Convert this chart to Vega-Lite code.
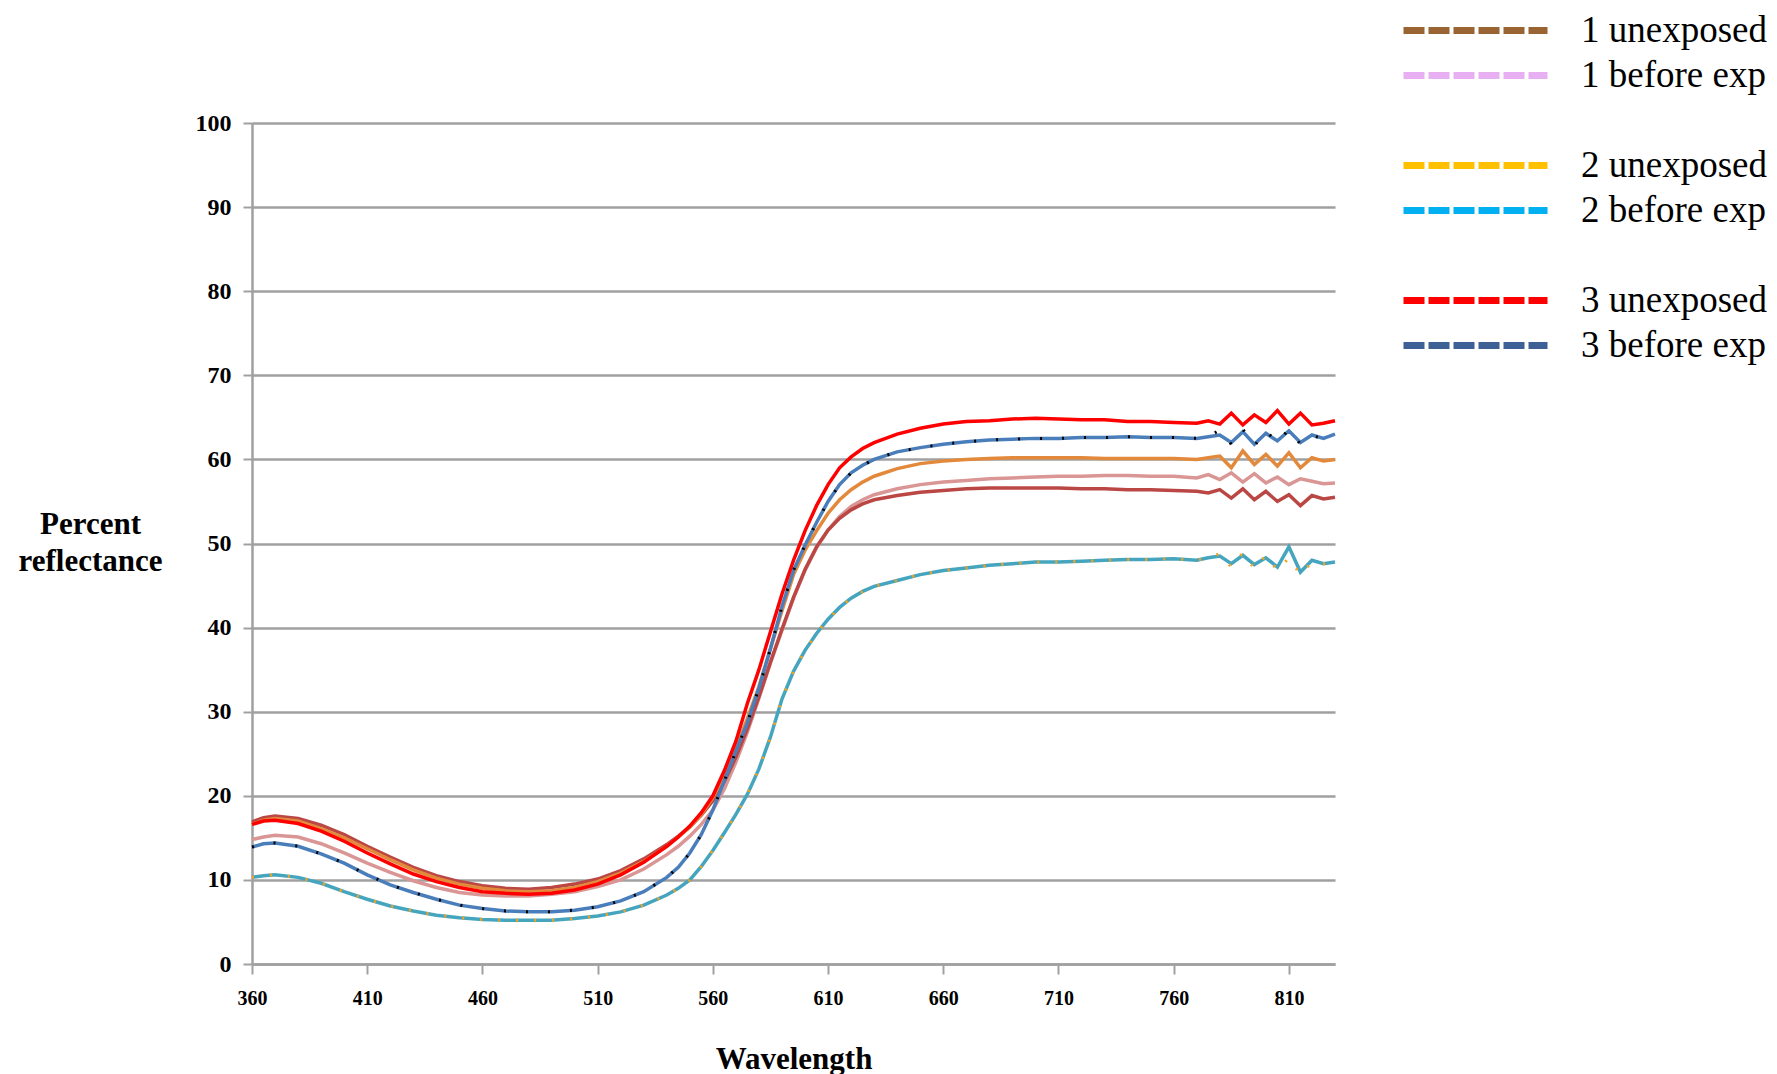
{
  "$schema": "https://vega.github.io/schema/vega-lite/v6.json",
  "width": 1083,
  "height": 841,
  "autosize": {"type": "none"},
  "padding": {"left": 252, "top": 123, "right": 442, "bottom": 110},
  "background": "white",
  "config": {"view": {"stroke": null}, "font": "Liberation Serif"},
  "datasets": {
    "spectra": [
      {"wavelength":360,"3 unexposed":16.6,"3 before exp":13.9,"1 unexposed":16.6,"1 before exp":14.8,"series 7":16.9,"2 before exp":10.3,"2 unexposed":10.3,"series 8":13.9},
      {"wavelength":365,"3 unexposed":17.0,"3 before exp":14.3,"1 unexposed":17.1,"1 before exp":15.1,"series 7":17.4,"2 before exp":10.5,"2 unexposed":10.5,"series 8":14.3},
      {"wavelength":370,"3 unexposed":17.1,"3 before exp":14.4,"1 unexposed":17.3,"1 before exp":15.3,"series 7":17.6,"2 before exp":10.6,"2 unexposed":10.6,"series 8":14.4},
      {"wavelength":380,"3 unexposed":16.7,"3 before exp":14.0,"1 unexposed":17.0,"1 before exp":15.1,"series 7":17.3,"2 before exp":10.3,"2 unexposed":10.3,"series 8":14.0},
      {"wavelength":390,"3 unexposed":15.8,"3 before exp":13.1,"1 unexposed":16.1,"1 before exp":14.3,"series 7":16.5,"2 before exp":9.6,"2 unexposed":9.6,"series 8":13.1},
      {"wavelength":400,"3 unexposed":14.6,"3 before exp":12.0,"1 unexposed":15.0,"1 before exp":13.2,"series 7":15.4,"2 before exp":8.6,"2 unexposed":8.6,"series 8":12.0},
      {"wavelength":410,"3 unexposed":13.2,"3 before exp":10.6,"1 unexposed":13.7,"1 before exp":12.0,"series 7":14.0,"2 before exp":7.7,"2 unexposed":7.7,"series 8":10.6},
      {"wavelength":420,"3 unexposed":11.9,"3 before exp":9.4,"1 unexposed":12.4,"1 before exp":10.9,"series 7":12.7,"2 before exp":6.9,"2 unexposed":6.9,"series 8":9.4},
      {"wavelength":430,"3 unexposed":10.7,"3 before exp":8.5,"1 unexposed":11.2,"1 before exp":9.9,"series 7":11.5,"2 before exp":6.3,"2 unexposed":6.3,"series 8":8.5},
      {"wavelength":440,"3 unexposed":9.8,"3 before exp":7.7,"1 unexposed":10.2,"1 before exp":9.1,"series 7":10.5,"2 before exp":5.8,"2 unexposed":5.8,"series 8":7.7},
      {"wavelength":450,"3 unexposed":9.1,"3 before exp":7.0,"1 unexposed":9.5,"1 before exp":8.5,"series 7":9.8,"2 before exp":5.5,"2 unexposed":5.5,"series 8":7.0},
      {"wavelength":460,"3 unexposed":8.6,"3 before exp":6.6,"1 unexposed":9.0,"1 before exp":8.2,"series 7":9.3,"2 before exp":5.3,"2 unexposed":5.3,"series 8":6.6},
      {"wavelength":470,"3 unexposed":8.4,"3 before exp":6.3,"1 unexposed":8.7,"1 before exp":8.1,"series 7":9.0,"2 before exp":5.2,"2 unexposed":5.2,"series 8":6.3},
      {"wavelength":480,"3 unexposed":8.3,"3 before exp":6.2,"1 unexposed":8.6,"1 before exp":8.1,"series 7":8.9,"2 before exp":5.2,"2 unexposed":5.2,"series 8":6.2},
      {"wavelength":490,"3 unexposed":8.4,"3 before exp":6.2,"1 unexposed":8.7,"1 before exp":8.3,"series 7":9.1,"2 before exp":5.2,"2 unexposed":5.2,"series 8":6.2},
      {"wavelength":500,"3 unexposed":8.8,"3 before exp":6.4,"1 unexposed":9.1,"1 before exp":8.6,"series 7":9.5,"2 before exp":5.4,"2 unexposed":5.4,"series 8":6.4},
      {"wavelength":510,"3 unexposed":9.5,"3 before exp":6.8,"1 unexposed":9.8,"1 before exp":9.2,"series 7":10.1,"2 before exp":5.7,"2 unexposed":5.7,"series 8":6.8},
      {"wavelength":520,"3 unexposed":10.6,"3 before exp":7.5,"1 unexposed":10.8,"1 before exp":10.0,"series 7":11.1,"2 before exp":6.2,"2 unexposed":6.2,"series 8":7.5},
      {"wavelength":530,"3 unexposed":12.1,"3 before exp":8.6,"1 unexposed":12.2,"1 before exp":11.3,"series 7":12.5,"2 before exp":7.0,"2 unexposed":7.0,"series 8":8.6},
      {"wavelength":540,"3 unexposed":14.0,"3 before exp":10.3,"1 unexposed":14.0,"1 before exp":13.0,"series 7":14.2,"2 before exp":8.2,"2 unexposed":8.2,"series 8":10.3},
      {"wavelength":545,"3 unexposed":15.1,"3 before exp":11.5,"1 unexposed":15.1,"1 before exp":14.0,"series 7":15.2,"2 before exp":9.0,"2 unexposed":9.0,"series 8":11.5},
      {"wavelength":550,"3 unexposed":16.4,"3 before exp":13.2,"1 unexposed":16.3,"1 before exp":15.2,"series 7":16.3,"2 before exp":10.0,"2 unexposed":10.0,"series 8":13.2},
      {"wavelength":555,"3 unexposed":18.0,"3 before exp":15.4,"1 unexposed":17.8,"1 before exp":16.6,"series 7":17.7,"2 before exp":11.6,"2 unexposed":11.6,"series 8":15.4},
      {"wavelength":560,"3 unexposed":20.0,"3 before exp":18.3,"1 unexposed":19.8,"1 before exp":18.3,"series 7":19.4,"2 before exp":13.5,"2 unexposed":13.5,"series 8":18.3},
      {"wavelength":565,"3 unexposed":23.0,"3 before exp":21.8,"1 unexposed":22.4,"1 before exp":20.8,"series 7":21.7,"2 before exp":15.6,"2 unexposed":15.6,"series 8":21.8},
      {"wavelength":570,"3 unexposed":26.5,"3 before exp":25.3,"1 unexposed":25.6,"1 before exp":24.0,"series 7":24.6,"2 before exp":17.8,"2 unexposed":17.8,"series 8":25.3},
      {"wavelength":575,"3 unexposed":31.0,"3 before exp":28.7,"1 unexposed":29.2,"1 before exp":27.6,"series 7":28.0,"2 before exp":20.2,"2 unexposed":20.2,"series 8":28.7},
      {"wavelength":580,"3 unexposed":35.0,"3 before exp":32.8,"1 unexposed":33.0,"1 before exp":31.6,"series 7":31.8,"2 before exp":23.2,"2 unexposed":23.2,"series 8":32.8},
      {"wavelength":585,"3 unexposed":39.5,"3 before exp":37.5,"1 unexposed":37.5,"1 before exp":35.8,"series 7":35.9,"2 before exp":27.0,"2 unexposed":27.0,"series 8":37.5},
      {"wavelength":590,"3 unexposed":44.0,"3 before exp":42.5,"1 unexposed":42.0,"1 before exp":39.7,"series 7":39.8,"2 before exp":31.5,"2 unexposed":31.5,"series 8":42.5},
      {"wavelength":595,"3 unexposed":48.0,"3 before exp":46.8,"1 unexposed":46.3,"1 before exp":43.5,"series 7":43.6,"2 before exp":34.8,"2 unexposed":34.8,"series 8":46.8},
      {"wavelength":600,"3 unexposed":51.5,"3 before exp":49.8,"1 unexposed":49.2,"1 before exp":46.8,"series 7":46.9,"2 before exp":37.3,"2 unexposed":37.3,"series 8":49.8},
      {"wavelength":605,"3 unexposed":54.5,"3 before exp":52.5,"1 unexposed":51.5,"1 before exp":49.5,"series 7":49.6,"2 before exp":39.3,"2 unexposed":39.3,"series 8":52.5},
      {"wavelength":610,"3 unexposed":57.0,"3 before exp":55.0,"1 unexposed":53.6,"1 before exp":51.6,"series 7":51.6,"2 before exp":41.0,"2 unexposed":41.0,"series 8":55.0},
      {"wavelength":615,"3 unexposed":59.0,"3 before exp":57.0,"1 unexposed":55.2,"1 before exp":53.2,"series 7":53.0,"2 before exp":42.4,"2 unexposed":42.4,"series 8":57.0},
      {"wavelength":620,"3 unexposed":60.3,"3 before exp":58.4,"1 unexposed":56.4,"1 before exp":54.4,"series 7":54.0,"2 before exp":43.5,"2 unexposed":43.5,"series 8":58.4},
      {"wavelength":625,"3 unexposed":61.3,"3 before exp":59.3,"1 unexposed":57.3,"1 before exp":55.2,"series 7":54.7,"2 before exp":44.3,"2 unexposed":44.3,"series 8":59.3},
      {"wavelength":630,"3 unexposed":62.0,"3 before exp":60.0,"1 unexposed":58.0,"1 before exp":55.8,"series 7":55.2,"2 before exp":44.9,"2 unexposed":44.9,"series 8":60.0},
      {"wavelength":640,"3 unexposed":63.0,"3 before exp":60.9,"1 unexposed":58.9,"1 before exp":56.5,"series 7":55.7,"2 before exp":45.6,"2 unexposed":45.6,"series 8":60.9},
      {"wavelength":650,"3 unexposed":63.7,"3 before exp":61.4,"1 unexposed":59.5,"1 before exp":57.0,"series 7":56.1,"2 before exp":46.3,"2 unexposed":46.3,"series 8":61.4},
      {"wavelength":660,"3 unexposed":64.2,"3 before exp":61.8,"1 unexposed":59.8,"1 before exp":57.3,"series 7":56.3,"2 before exp":46.8,"2 unexposed":46.8,"series 8":61.8},
      {"wavelength":670,"3 unexposed":64.5,"3 before exp":62.1,"1 unexposed":60.0,"1 before exp":57.5,"series 7":56.5,"2 before exp":47.1,"2 unexposed":47.1,"series 8":62.1},
      {"wavelength":680,"3 unexposed":64.6,"3 before exp":62.3,"1 unexposed":60.1,"1 before exp":57.7,"series 7":56.6,"2 before exp":47.4,"2 unexposed":47.4,"series 8":62.3},
      {"wavelength":690,"3 unexposed":64.8,"3 before exp":62.4,"1 unexposed":60.2,"1 before exp":57.8,"series 7":56.6,"2 before exp":47.6,"2 unexposed":47.6,"series 8":62.4},
      {"wavelength":700,"3 unexposed":64.9,"3 before exp":62.5,"1 unexposed":60.2,"1 before exp":57.9,"series 7":56.6,"2 before exp":47.8,"2 unexposed":47.8,"series 8":62.5},
      {"wavelength":710,"3 unexposed":64.8,"3 before exp":62.5,"1 unexposed":60.2,"1 before exp":58.0,"series 7":56.6,"2 before exp":47.8,"2 unexposed":47.8,"series 8":62.5},
      {"wavelength":720,"3 unexposed":64.7,"3 before exp":62.6,"1 unexposed":60.2,"1 before exp":58.0,"series 7":56.5,"2 before exp":47.9,"2 unexposed":47.9,"series 8":62.6},
      {"wavelength":730,"3 unexposed":64.7,"3 before exp":62.6,"1 unexposed":60.1,"1 before exp":58.1,"series 7":56.5,"2 before exp":48.0,"2 unexposed":48.0,"series 8":62.6},
      {"wavelength":740,"3 unexposed":64.5,"3 before exp":62.7,"1 unexposed":60.1,"1 before exp":58.1,"series 7":56.4,"2 before exp":48.1,"2 unexposed":48.1,"series 8":62.7},
      {"wavelength":750,"3 unexposed":64.5,"3 before exp":62.6,"1 unexposed":60.1,"1 before exp":58.0,"series 7":56.4,"2 before exp":48.1,"2 unexposed":48.1,"series 8":62.6},
      {"wavelength":760,"3 unexposed":64.4,"3 before exp":62.6,"1 unexposed":60.1,"1 before exp":58.0,"series 7":56.3,"2 before exp":48.2,"2 unexposed":48.2,"series 8":62.6},
      {"wavelength":770,"3 unexposed":64.3,"3 before exp":62.5,"1 unexposed":60.0,"1 before exp":57.8,"series 7":56.2,"2 before exp":48.0,"2 unexposed":48.0,"series 8":62.5},
      {"wavelength":775,"3 unexposed":64.6,"3 before exp":62.7,"1 unexposed":60.2,"1 before exp":58.2,"series 7":56.0,"2 before exp":48.3,"2 unexposed":48.3,"series 8":62.7},
      {"wavelength":780,"3 unexposed":64.2,"3 before exp":62.9,"1 unexposed":60.4,"1 before exp":57.6,"series 7":56.4,"2 before exp":48.5,"2 unexposed":48.8,"series 8":63.5},
      {"wavelength":785,"3 unexposed":65.5,"3 before exp":62.0,"1 unexposed":59.0,"1 before exp":58.4,"series 7":55.4,"2 before exp":47.6,"2 unexposed":47.2,"series 8":61.8},
      {"wavelength":790,"3 unexposed":64.1,"3 before exp":63.3,"1 unexposed":61.0,"1 before exp":57.3,"series 7":56.5,"2 before exp":48.6,"2 unexposed":48.9,"series 8":63.6},
      {"wavelength":795,"3 unexposed":65.3,"3 before exp":61.8,"1 unexposed":59.4,"1 before exp":58.3,"series 7":55.2,"2 before exp":47.5,"2 unexposed":47.0,"series 8":61.6},
      {"wavelength":800,"3 unexposed":64.4,"3 before exp":63.1,"1 unexposed":60.6,"1 before exp":57.2,"series 7":56.2,"2 before exp":48.3,"2 unexposed":48.6,"series 8":63.4},
      {"wavelength":805,"3 unexposed":65.8,"3 before exp":62.2,"1 unexposed":59.2,"1 before exp":57.9,"series 7":55.0,"2 before exp":47.2,"2 unexposed":46.8,"series 8":62.0},
      {"wavelength":810,"3 unexposed":64.2,"3 before exp":63.4,"1 unexposed":60.8,"1 before exp":57.0,"series 7":55.8,"2 before exp":49.6,"2 unexposed":48.3,"series 8":63.6},
      {"wavelength":815,"3 unexposed":65.5,"3 before exp":62.0,"1 unexposed":59.0,"1 before exp":57.7,"series 7":54.5,"2 before exp":46.6,"2 unexposed":46.3,"series 8":61.8},
      {"wavelength":820,"3 unexposed":64.1,"3 before exp":62.9,"1 unexposed":60.2,"1 before exp":57.4,"series 7":55.7,"2 before exp":48.0,"2 unexposed":47.8,"series 8":62.8},
      {"wavelength":825,"3 unexposed":64.3,"3 before exp":62.5,"1 unexposed":59.8,"1 before exp":57.1,"series 7":55.3,"2 before exp":47.6,"2 unexposed":47.6,"series 8":62.5},
      {"wavelength":830,"3 unexposed":64.6,"3 before exp":63.0,"1 unexposed":60.0,"1 before exp":57.2,"series 7":55.5,"2 before exp":47.8,"2 unexposed":47.8,"series 8":63.0}
    ]
  },
  "layer": [
    {
      "data": {"name": "spectra"},
      "transform": [
        {"fold": ["2 before exp", "1 before exp", "series 7", "1 unexposed", "3 before exp", "3 unexposed", "2 unexposed", "series 8"], "as": ["series", "reflectance"]}
      ],
      "encoding": {
        "x": {
          "field": "wavelength", "type": "quantitative",
          "scale": {"domain": [360, 830], "nice": false, "zero": false},
          "axis": {
            "values": [360, 410, 460, 510, 560, 610, 660, 710, 760, 810],
            "title": "Wavelength", "grid": false,
            "domainColor": "#a0a0a0", "domainWidth": 2.5,
            "tickColor": "#a0a0a0", "tickWidth": 2, "tickSize": 10,
            "labelFont": "Liberation Serif", "labelFontWeight": "bold", "labelFontSize": 20, "labelColor": "black", "labelPadding": 14, "labelFlush": false,
            "titleFont": "Liberation Serif", "titleFontWeight": "bold", "titleFontSize": 31, "titleColor": "black", "titlePadding": 36
          }
        },
        "y": {
          "field": "reflectance", "type": "quantitative",
          "scale": {"domain": [0, 100], "nice": false},
          "axis": {
            "values": [0, 10, 20, 30, 40, 50, 60, 70, 80, 90, 100],
            "grid": true, "gridColor": "#a0a0a0", "gridWidth": 2.5,
            "domainColor": "#a0a0a0", "domainWidth": 2.5,
            "tickColor": "#a0a0a0", "tickWidth": 2, "tickSize": 9,
            "labelFont": "Liberation Serif", "labelFontWeight": "bold", "labelFontSize": 24, "labelColor": "black", "labelPadding": 12,
            "title": ["Percent", "reflectance"], "titleAngle": 0, "titleAlign": "center", "titleBaseline": "top",
            "titleX": -162, "titleY": 386, "titleLineHeight": 37,
            "titleFont": "Liberation Serif", "titleFontWeight": "bold", "titleFontSize": 31, "titleColor": "black"
          }
        }
      },
      "layer": [
        {
          "transform": [{"filter": {"field": "series", "oneOf": ["2 before exp", "1 before exp", "series 7", "1 unexposed", "3 before exp", "3 unexposed"]}}],
          "mark": {"type": "line", "strokeWidth": 3.5},
          "encoding": {
            "color": {
              "field": "series", "type": "nominal",
              "scale": {
                "domain": ["2 before exp", "1 before exp", "series 7", "1 unexposed", "3 before exp", "3 unexposed"],
                "range": ["#46A5BE", "#D99694", "#BA4744", "#E3893C", "#4A7EBB", "#FF0000"]
              },
              "legend": null
            }
          }
        },
        {
          "transform": [{"filter": {"field": "series", "equal": "2 unexposed"}}],
          "mark": {"type": "line", "strokeWidth": 3, "color": "#F5A21E", "strokeDash": [2, 16]},
          "encoding": {}
        },
        {
          "transform": [{"filter": {"field": "series", "equal": "series 8"}}],
          "mark": {"type": "line", "strokeWidth": 3, "color": "#000000", "strokeDash": [2, 20]},
          "encoding": {}
        }
      ]
    },
    {
      "data": {"values": [
        {"entry": "1 unexposed"}, {"entry": "1 before exp"},
        {"entry": "2 unexposed"}, {"entry": "2 before exp"},
        {"entry": "3 unexposed"}, {"entry": "3 before  exp"}
      ]},
      "mark": {"type": "line", "opacity": 0, "strokeWidth": 7, "strokeDash": [21, 4]},
      "encoding": {
        "color": {
          "field": "entry", "type": "nominal",
          "scale": {
            "domain": ["1 unexposed", "1 before exp", " ", "2 unexposed", "2 before exp", "  ", "3 unexposed", "3 before  exp"],
            "range": ["#9A6432", "#E8B0F2", "rgba(0,0,0,0)", "#FFC000", "#00B0F0", "rgba(0,0,0,0)", "#FF0000", "#3D6095"]
          },
          "legend": {
            "orient": "none", "legendX": 1202, "legendY": -114,
            "title": null, "padding": 0,
            "symbolType": "M-4,0H4", "symbolSize": 1296, "symbolStrokeWidth": 7, "symbolDash": [21, 4], "symbolOpacity": 1,
            "labelFont": "Liberation Serif", "labelFontSize": 37, "labelColor": "black", "labelOffset": 84, "labelLimit": 400,
            "rowPadding": 5
          }
        }
      }
    }
  ],
  "resolve": {"scale": {"color": "independent"}}
}
